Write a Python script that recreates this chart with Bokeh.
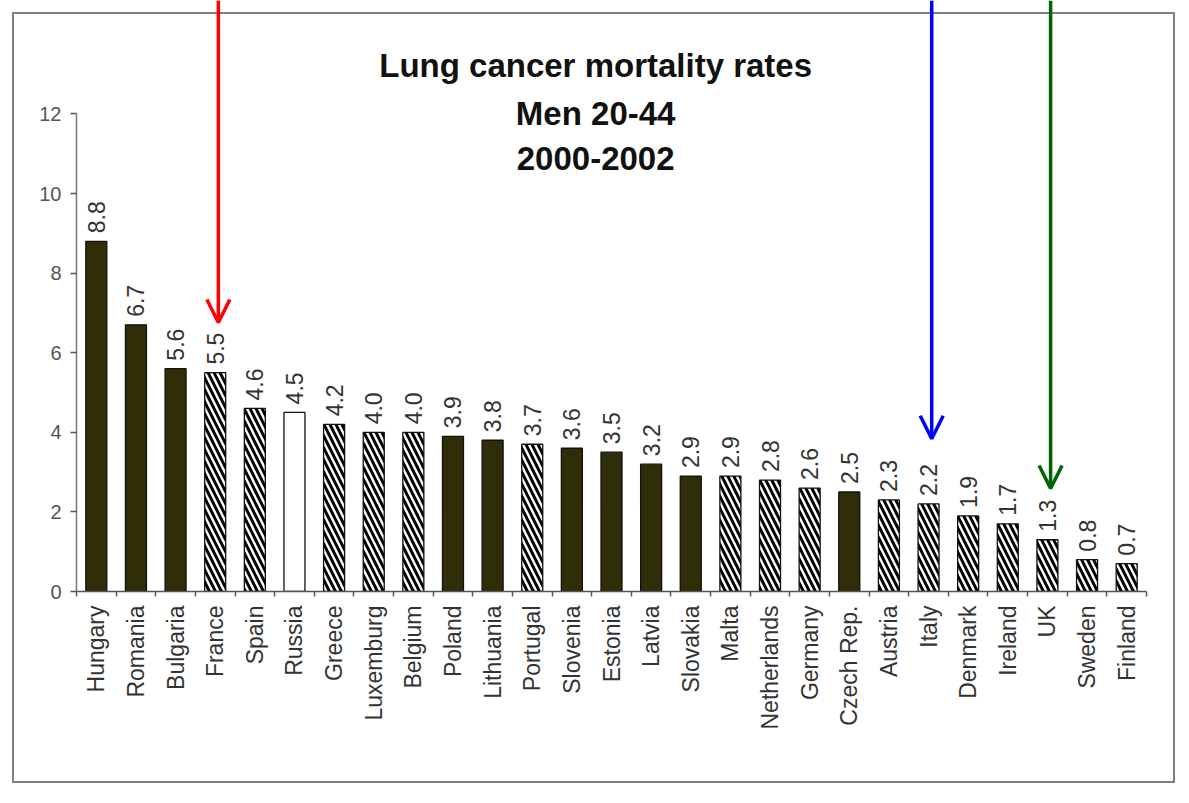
from math import pi
from bokeh.plotting import figure
from bokeh.models import (Range1d, FixedTicker, ColumnDataSource, Arrow, OpenHead, Label)
from bokeh.core.properties import value
from bokeh.embed import file_html
from bokeh.resources import INLINE

# ---------------- data ----------------
countries = ["Hungary", "Romania", "Bulgaria", "France", "Spain", "Russia", "Greece",
             "Luxemburg", "Belgium", "Poland", "Lithuania", "Portugal", "Slovenia",
             "Estonia", "Latvia", "Slovakia", "Malta", "Netherlands", "Germany",
             "Czech Rep.", "Austria", "Italy", "Denmark", "Ireland", "UK", "Sweden",
             "Finland"]
rates = [8.8, 6.7, 5.6, 5.5, 4.6, 4.5, 4.2, 4.0, 4.0, 3.9, 3.8, 3.7, 3.6, 3.5, 3.2,
         2.9, 2.9, 2.8, 2.6, 2.5, 2.3, 2.2, 1.9, 1.7, 1.3, 0.8, 0.7]
styles = ["solid", "solid", "solid", "hatch", "hatch", "open", "hatch", "hatch", "hatch",
          "solid", "solid", "hatch", "solid", "solid", "solid", "solid", "hatch", "hatch",
          "hatch", "solid", "hatch", "hatch", "hatch", "hatch", "hatch", "hatch", "hatch"]
title_lines = ["Lung cancer mortality rates", "Men 20-44", "2000-2002"]
highlight = ["France", "Italy", "UK"]
highlight_colors = ["#ff0000", "#0000ff", "#006400"]
arrow_tips = [6.76, 3.84, 2.59]
y_ticks = [0, 2, 4, 6, 8, 10, 12]

FONT = "Liberation Sans"
n = len(countries)
idx = list(range(n))
Y_END = 14.85

p = figure(width=1187, height=795, x_range=Range1d(-0.5, n - 0.5),
           y_range=Range1d(0, Y_END), output_backend="svg", toolbar_location=None,
           min_border_left=76, min_border_right=41, min_border_top=0,
           min_border_bottom=204)
p.grid.visible = False
p.outline_line_color = None
p.background_fill_color = None
p.border_fill_color = None
# grey frame around the whole chart
p.styles = {"outline": "2px solid #808080", "outline-offset": "-14px"}

# bars
fills = {"solid": "#302e08", "hatch": "white", "open": "white"}
for st in ["solid", "hatch", "open"]:
    sel = [i for i in idx if styles[i] == st]
    src = ColumnDataSource(dict(x=sel, top=[rates[i] for i in sel]))
    kw = {}
    if st == "hatch":
        kw = dict(hatch_pattern="\\", hatch_color="black", hatch_scale=12, hatch_weight=3)
    p.vbar(x="x", top="top", width=0.53, bottom=0, source=src,
           fill_color=fills[st], line_color="#111111", line_width=1.3, **kw)

# value labels
lab_src = ColumnDataSource(dict(x=idx, y=rates, t=[f"{v:.1f}" for v in rates]))
p.text(x="x", y="y", text="t", source=lab_src, angle=pi / 2, text_align="left",
       text_baseline="middle", y_offset=-8, text_font=value(FONT),
       text_font_size="23px", text_color="#333333")

# x axis
xa = p.xaxis[0]
xa.ticker = FixedTicker(ticks=idx, minor_ticks=[i - 0.5 for i in range(n + 1)])
xa.major_label_overrides = {i: c for i, c in enumerate(countries)}
xa.major_label_orientation = pi / 2
xa.major_tick_line_color = None
xa.major_tick_out = 0
xa.major_tick_in = 0
xa.minor_tick_out = 5
xa.minor_tick_in = 0
xa.minor_tick_line_color = "#555555"
xa.minor_tick_line_width = 1.5
xa.axis_line_color = "#555555"
xa.axis_line_width = 1.5
xa.major_label_standoff = 9
xa.major_label_text_font = FONT
xa.major_label_text_font_size = "23px"
xa.major_label_text_color = "#333333"

# y axis
ya = p.yaxis[0]
ya.ticker = FixedTicker(ticks=y_ticks)
ya.bounds = (0, 12)
ya.minor_tick_line_color = None
ya.major_tick_out = 6
ya.major_tick_in = 0
ya.major_tick_line_color = "#555555"
ya.major_tick_line_width = 1.5
ya.axis_line_color = "#777777"
ya.axis_line_width = 1.5
ya.major_label_standoff = 9
ya.major_label_text_font = FONT
ya.major_label_text_font_size = "20px"
ya.major_label_text_color = "#555555"

# title (three lines, drawn over the plot area)
for line, yy in zip(title_lines, [13.21, 12.0, 10.87]):
    p.add_layout(Label(x=12.6, y=yy, text=line, text_align="center",
                       text_baseline="alphabetic", text_font=FONT,
                       text_font_style="bold", text_font_size="33px",
                       text_color="#111111"))

# arrows
for name, col, tip in zip(highlight, highlight_colors, arrow_tips):
    i = countries.index(name)
    p.add_layout(Arrow(x_start=i + 0.08, y_start=Y_END, x_end=i + 0.08, y_end=tip,
                       line_color=col, line_width=3.5,
                       end=OpenHead(size=23, line_color=col, line_width=3.5)))

open("out.html", "w").write(file_html(p, INLINE))
